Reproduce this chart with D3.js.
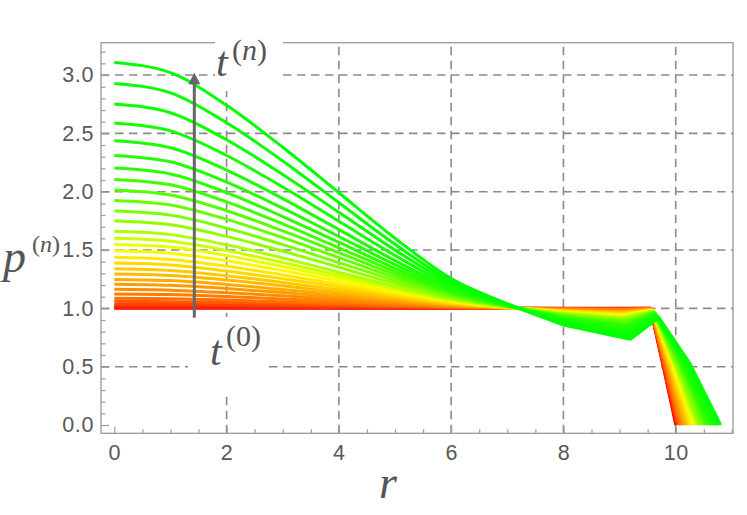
<!DOCTYPE html>
<html>
<head>
<meta charset="utf-8">
<script src="https://cdn.jsdelivr.net/npm/d3@7"></script>
<style>
  body { margin: 0; background: #fff; }
  svg { display: block; }
</style>
</head>
<body>
<div id="chart"></div>
<script>
// curve values, curve 0 = t(0) (red) ... curve 29 = t(n) (green)

const R_SMOOTH = [0, 1, 2, 3, 4, 5, 6, 7, 8]

const P_SMOOTH = [
  [1.000, 1.000, 1.000, 1.000, 1.000, 1.000, 1.000, 1.000, 1.000],
  [1.008, 1.008, 1.007, 1.005, 1.004, 1.002, 1.001, 1.000, 0.999],
  [1.020, 1.019, 1.017, 1.013, 1.009, 1.006, 1.002, 1.000, 0.999],
  [1.038, 1.036, 1.031, 1.025, 1.018, 1.011, 1.005, 1.001, 0.997],
  [1.060, 1.057, 1.050, 1.039, 1.028, 1.017, 1.007, 1.001, 0.996],
  [1.086, 1.082, 1.071, 1.056, 1.040, 1.025, 1.010, 1.002, 0.994],
  [1.123, 1.118, 1.101, 1.081, 1.058, 1.035, 1.015, 1.002, 0.992],
  [1.163, 1.156, 1.134, 1.107, 1.077, 1.046, 1.020, 1.003, 0.989],
  [1.206, 1.197, 1.170, 1.135, 1.097, 1.059, 1.025, 1.004, 0.986],
  [1.248, 1.238, 1.205, 1.162, 1.117, 1.071, 1.030, 1.005, 0.983],
  [1.294, 1.282, 1.243, 1.193, 1.138, 1.084, 1.036, 1.006, 0.980],
  [1.339, 1.325, 1.280, 1.222, 1.159, 1.097, 1.041, 1.006, 0.977],
  [1.388, 1.372, 1.320, 1.254, 1.182, 1.111, 1.047, 1.007, 0.974],
  [1.437, 1.419, 1.361, 1.286, 1.205, 1.125, 1.053, 1.008, 0.970],
  [1.494, 1.473, 1.408, 1.324, 1.232, 1.141, 1.060, 1.009, 0.966],
  [1.548, 1.525, 1.452, 1.359, 1.258, 1.156, 1.066, 1.010, 0.963],
  [1.600, 1.575, 1.495, 1.393, 1.282, 1.171, 1.073, 1.011, 0.959],
  [1.660, 1.632, 1.545, 1.432, 1.310, 1.188, 1.080, 1.013, 0.955],
  [1.748, 1.717, 1.617, 1.490, 1.352, 1.213, 1.091, 1.014, 0.949],
  [1.834, 1.799, 1.688, 1.546, 1.392, 1.238, 1.101, 1.016, 0.943],
  [1.925, 1.886, 1.763, 1.606, 1.435, 1.264, 1.112, 1.018, 0.937],
  [2.014, 1.971, 1.837, 1.664, 1.477, 1.289, 1.123, 1.019, 0.931],
  [2.105, 2.059, 1.912, 1.724, 1.519, 1.315, 1.134, 1.021, 0.925],
  [2.202, 2.152, 1.992, 1.787, 1.565, 1.343, 1.145, 1.023, 0.918],
  [2.311, 2.256, 2.082, 1.859, 1.616, 1.374, 1.159, 1.025, 0.911],
  [2.436, 2.376, 2.185, 1.941, 1.675, 1.409, 1.174, 1.027, 0.902],
  [2.588, 2.521, 2.310, 2.040, 1.746, 1.453, 1.192, 1.030, 0.892],
  [2.751, 2.677, 2.445, 2.147, 1.823, 1.499, 1.212, 1.033, 0.881],
  [2.928, 2.847, 2.591, 2.263, 1.906, 1.549, 1.233, 1.037, 0.869],
  [3.108, 3.020, 2.740, 2.381, 1.991, 1.601, 1.255, 1.040, 0.857]
]

// tail nodes near the outer boundary (dip, kink, bend, end at p = 0)
const A_R = [9.00, 9.00, 9.00, 9.00, 9.01, 9.01, 9.01, 9.01, 9.02, 9.02, 9.03, 9.03, 9.03, 9.04, 9.04,
             9.05, 9.05, 9.06, 9.07, 9.08, 9.08, 9.09, 9.10, 9.11, 9.12, 9.13, 9.14, 9.16, 9.17, 9.19]
const A_P = [1.000, 0.999, 0.997, 0.995, 0.993, 0.989, 0.985, 0.980, 0.974, 0.969, 0.963, 0.957, 0.951, 0.945, 0.938,
             0.931, 0.924, 0.917, 0.906, 0.895, 0.883, 0.872, 0.861, 0.848, 0.835, 0.819, 0.800, 0.779, 0.757, 0.734]
const B_R = [9.55, 9.55, 9.55, 9.55, 9.55, 9.56, 9.56, 9.56, 9.56, 9.57, 9.57, 9.57, 9.58, 9.58, 9.59,
             9.59, 9.59, 9.60, 9.60, 9.61, 9.62, 9.62, 9.63, 9.64, 9.64, 9.65, 9.66, 9.67, 9.69, 9.70]
const B_P = [1.000, 1.000, 0.999, 0.999, 0.998, 0.997, 0.995, 0.994, 0.992, 0.991, 0.989, 0.987, 0.985, 0.983, 0.981,
             0.979, 0.977, 0.975, 0.972, 0.968, 0.965, 0.962, 0.958, 0.954, 0.950, 0.946, 0.940, 0.934, 0.927, 0.920]
const C_R = [9.78, 9.78, 9.79, 9.80, 9.81, 9.82, 9.83, 9.85, 9.86, 9.87, 9.89, 9.90, 9.92, 9.93, 9.95,
             9.97, 9.98, 10.00, 10.02, 10.04, 10.06, 10.08, 10.10, 10.12, 10.14, 10.16, 10.18, 10.20, 10.23, 10.25]
const C_P = [0.500, 0.500, 0.500, 0.501, 0.501, 0.501, 0.502, 0.502, 0.503, 0.504, 0.504, 0.505, 0.505, 0.506, 0.507,
             0.508, 0.508, 0.509, 0.511, 0.512, 0.513, 0.515, 0.516, 0.517, 0.519, 0.521, 0.523, 0.525, 0.528, 0.530]
const D_R = [10.00, 10.01, 10.03, 10.04, 10.06, 10.08, 10.10, 10.13, 10.15, 10.17, 10.20, 10.23, 10.25, 10.28, 10.31,
             10.34, 10.37, 10.40, 10.43, 10.46, 10.49, 10.53, 10.56, 10.59, 10.63, 10.66, 10.69, 10.73, 10.76, 10.80]

const X_TICKS = [0, 2, 4, 6, 8, 10]
const X_MINOR = [0.5, 1, 1.5, 2.5, 3, 3.5, 4.5, 5, 5.5, 6.5, 7, 7.5, 8.5, 9, 9.5, 10.5, 11]
const Y_TICKS = [0, 0.5, 1, 1.5, 2, 2.5, 3]
const X_GRID = [2, 4, 6, 8, 10]
const Y_GRID = [0.5, 1, 1.5, 2, 2.5, 3]

const ARROW = { r: 1.425, from: 0.92, to: 3.02 }

const WIDTH = 747
const HEIGHT = 515
const FRAME = { left: 101, right: 733, top: 42.7, bottom: 433.3 }

const GRAY = '#9a9a9a'
const TEXT = '#585858'

let svg = d3.select('#chart')
  .append('svg')
    .attr('width', WIDTH)
    .attr('height', HEIGHT)

svg.append('rect')
  .attr('width', WIDTH)
  .attr('height', HEIGHT)
  .attr('fill', '#fff')

let x = d3.scaleLinear()
  .domain([-0.237, 11.02])
  .range([FRAME.left, FRAME.right])

let y = d3.scaleLinear()
  .domain([-0.071, 3.277])
  .range([FRAME.bottom, FRAME.top])

// colour per curve index, red -> yellow -> green
let hue = d3.scaleLinear()
  .domain([0, 5, 9, 14, 18, 23, 29])
  .range([0, 26, 40, 58, 86, 110, 120])
let color = (i) => d3.hsl(hue(i), 1, 0.5).toString()

// grid

let grid = svg.append('g')
  .attr('stroke', '#8a8a8a')
  .attr('stroke-width', 1.6)
  .attr('stroke-dasharray', '8.5,5.5')

grid.selectAll('.gx')
  .data(X_GRID)
  .enter().append('line')
    .attr('x1', (d) => x(d))
    .attr('x2', (d) => x(d))
    .attr('y1', FRAME.bottom)
    .attr('y2', FRAME.top)

grid.selectAll('.gy')
  .data(Y_GRID)
  .enter().append('line')
    .attr('x1', FRAME.left)
    .attr('x2', FRAME.right)
    .attr('y1', (d) => y(d))
    .attr('y2', (d) => y(d))

// curves

let smooth = d3.line()
  .x((d) => x(d[0]))
  .y((d) => y(d[1]))
  .curve(d3.curveMonotoneX)

let straight = d3.line()
  .x((d) => x(d[0]))
  .y((d) => y(d[1]))

let curves = P_SMOOTH.map((row, i) => ({
  i: i,
  left: R_SMOOTH.map((r, j) => [r, row[j]]),
  tail: [[R_SMOOTH[R_SMOOTH.length - 1], row[row.length - 1]],
         [A_R[i], A_P[i]], [B_R[i], B_P[i]], [C_R[i], C_P[i]], [D_R[i], 0]]
}))

let curve = svg.append('g')
    .attr('fill', 'none')
    .attr('stroke-width', 3)
    .attr('stroke-linejoin', 'round')
  .selectAll('.curve')
    .data(curves)
   .enter().append('g')
    .attr('class', 'curve')
    .attr('stroke', (d) => color(d.i))

curve.append('path').attr('d', (d) => smooth(d.left))
curve.append('path').attr('d', (d) => straight(d.tail))

// frame and ticks

svg.append('rect')
  .attr('x', FRAME.left)
  .attr('y', FRAME.top)
  .attr('width', FRAME.right - FRAME.left)
  .attr('height', FRAME.bottom - FRAME.top)
  .attr('fill', 'none')
  .attr('stroke', GRAY)
  .attr('stroke-width', 1.3)

let xAxis = svg.append('g')
  .attr('transform', 'translate(0,' + FRAME.bottom + ')')
  .call(d3.axisBottom(x).tickValues(X_TICKS).tickSize(-6.5).tickPadding(11).tickFormat(d3.format('d')))

let xMinor = svg.append('g')
  .attr('transform', 'translate(0,' + FRAME.bottom + ')')
  .call(d3.axisBottom(x).tickValues(X_MINOR).tickSize(-4).tickFormat(''))

let yAxis = svg.append('g')
  .attr('transform', 'translate(' + FRAME.left + ',0)')
  .call(d3.axisLeft(y).tickValues(Y_TICKS).tickSize(-8).tickPadding(7).tickFormat(d3.format('.1f')))

let yMinor = svg.append('g')
  .attr('transform', 'translate(' + FRAME.left + ',0)')
  .call(d3.axisLeft(y).tickValues(d3.range(0, 33).map((k) => k / 10).filter((v) => Math.round(v * 10) % 5 !== 0)).tickSize(-4.5).tickFormat(''))

;[xAxis, xMinor, yAxis, yMinor].forEach((a) => {
  a.select('.domain').remove()
  a.selectAll('line').attr('stroke', GRAY).attr('stroke-width', 1.2)
  a.selectAll('text')
    .attr('fill', TEXT)
    .style('font-family', '"Liberation Sans", Arial, sans-serif')
    .style('font-size', '21.5px')
    .style('letter-spacing', '0.6px')
})

// label boxes (white background hides grid and frame)

svg.append('rect')
  .attr('x', 215).attr('y', 29)
  .attr('width', 68).attr('height', 62)
  .attr('fill', '#fff')

svg.append('rect')
  .attr('x', 188).attr('y', 317)
  .attr('width', 79).attr('height', 75)
  .attr('fill', '#fff')

// arrow

let ax = x(ARROW.r)
let tip = y(ARROW.to)

svg.append('line')
  .attr('x1', ax).attr('x2', ax)
  .attr('y1', y(ARROW.from))
  .attr('y2', tip + 10)
  .attr('stroke', '#666')
  .attr('stroke-width', 3)

svg.append('path')
  .attr('d', 'M' + ax + ',' + tip + 'L' + (ax + 6) + ',' + (tip + 11.5) + 'L' + (ax - 6) + ',' + (tip + 11.5) + 'Z')
  .attr('fill', '#666')

// math labels

const SERIF = '"Liberation Serif", "Times New Roman", serif'

function mathLabel(base, sup, x0, y0, size, supSize, supDx, supDy) {
  let g = svg.append('g')
    .attr('fill', '#555')
    .style('font-family', SERIF)
  g.append('text')
    .attr('x', x0).attr('y', y0)
    .style('font-size', size + 'px')
    .style('font-style', 'italic')
    .text(base)
  let s = g.append('text')
    .attr('x', x0 + supDx).attr('y', y0 + supDy)
    .style('font-size', supSize + 'px')
  s.append('tspan').text('(')
  s.append('tspan').style('font-style', sup === '0' ? 'normal' : 'italic').text(sup)
  s.append('tspan').text(')')
}

mathLabel('t', 'n', 216, 76, 42, 30, 16, -16)
mathLabel('t', '0', 210, 365, 42, 30, 16, -19)
mathLabel('p', 'n', 3, 272, 46, 24, 29, -20)

svg.append('text')
  .attr('x', 388).attr('y', 498)
  .attr('text-anchor', 'middle')
  .attr('fill', '#555')
  .style('font-family', SERIF)
  .style('font-size', '46px')
  .style('font-style', 'italic')
  .text('r')
</script>
</body>
</html>
